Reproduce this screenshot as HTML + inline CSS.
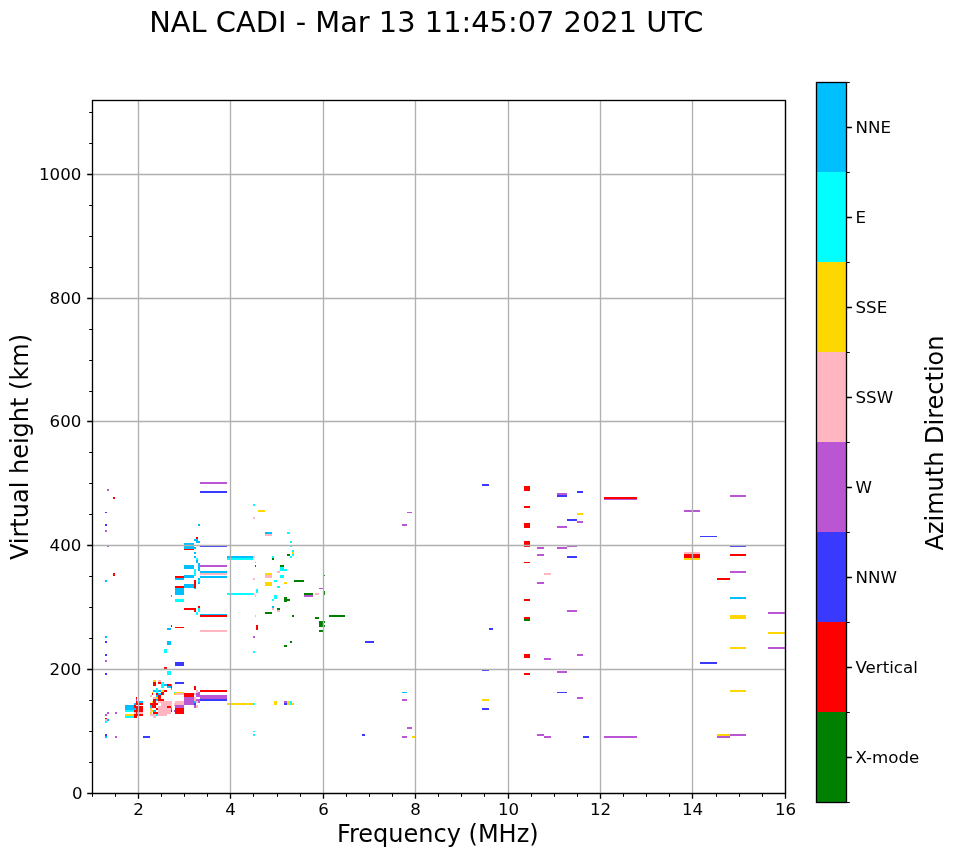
<!DOCTYPE html>
<html lang="en"><head><meta charset="utf-8"><title>NAL CADI - Mar 13 11:45:07 2021 UTC</title>
<style>html,body{margin:0;padding:0;background:#fff}svg{display:block}text{font-family:"DejaVu Sans","Liberation Sans",sans-serif;fill:#000}.t{font-size:16.67px}.l{font-size:24px}.h{font-size:28.87px}</style></head><body>
<svg width="958" height="857" viewBox="0 0 958 857">
<rect width="958" height="857" fill="#fff"/>
<g id="data" shape-rendering="crispEdges">
<rect x="107" y="489" width="2" height="2" fill="#ba55d3"/>
<rect x="113" y="497" width="2" height="2" fill="#ff0000"/>
<rect x="105" y="512" width="2" height="1" fill="#3a3aff"/>
<rect x="105" y="524" width="2" height="2" fill="#3a3aff"/>
<rect x="105" y="530" width="2" height="2" fill="#ba55d3"/>
<rect x="107" y="545" width="2" height="2" fill="#ba55d3"/>
<rect x="200" y="482" width="27" height="2" fill="#ba55d3"/>
<rect x="200" y="491" width="27" height="2" fill="#3a3aff"/>
<rect x="253" y="504" width="2" height="2" fill="#00ffff"/>
<rect x="258" y="510" width="7" height="2" fill="#ffd700"/>
<rect x="253" y="517" width="2" height="2" fill="#ffb6c1"/>
<rect x="198" y="524" width="2" height="2" fill="#00bfff"/>
<rect x="265" y="532" width="7" height="2" fill="#00bfff"/>
<rect x="265" y="534" width="7" height="2" fill="#ffb6c1"/>
<rect x="196" y="537" width="2" height="2" fill="#ff0000"/>
<rect x="194" y="539" width="4" height="2" fill="#00bfff"/>
<rect x="196" y="541" width="4" height="2" fill="#00bfff"/>
<rect x="184" y="543" width="10" height="6" fill="#00bfff"/>
<rect x="194" y="547" width="2" height="2" fill="#00bfff"/>
<rect x="184" y="549" width="10" height="1" fill="#ff0000"/>
<rect x="200" y="545" width="27" height="2" fill="#3a3aff"/>
<rect x="194" y="552" width="2" height="2" fill="#00bfff"/>
<rect x="194" y="556" width="2" height="2" fill="#00bfff"/>
<rect x="196" y="558" width="2" height="2" fill="#00ffff"/>
<rect x="196" y="560" width="2" height="3" fill="#00bfff"/>
<rect x="198" y="563" width="2" height="2" fill="#00bfff"/>
<rect x="227" y="556" width="26" height="2" fill="#00bfff"/>
<rect x="227" y="558" width="26" height="2" fill="#00ffff"/>
<rect x="253" y="556" width="2" height="2" fill="#ffb6c1"/>
<rect x="272" y="556" width="2" height="2" fill="#00ffff"/>
<rect x="272" y="558" width="2" height="2" fill="#008000"/>
<rect x="255" y="562" width="1" height="1" fill="#00ffff"/>
<rect x="184" y="565" width="10" height="4" fill="#00bfff"/>
<rect x="200" y="565" width="27" height="2" fill="#ba55d3"/>
<rect x="198" y="565" width="2" height="6" fill="#00bfff"/>
<rect x="194" y="569" width="2" height="7" fill="#00ffff"/>
<rect x="200" y="571" width="27" height="2" fill="#00bfff"/>
<rect x="200" y="573" width="27" height="2" fill="#ffb6c1"/>
<rect x="200" y="576" width="27" height="2" fill="#00bfff"/>
<rect x="184" y="575" width="10" height="3" fill="#00bfff"/>
<rect x="198" y="578" width="2" height="2" fill="#00bfff"/>
<rect x="198" y="580" width="2" height="2" fill="#00ffff"/>
<rect x="198" y="582" width="2" height="2" fill="#00bfff"/>
<rect x="194" y="580" width="2" height="8" fill="#ff0000"/>
<rect x="184" y="584" width="10" height="4" fill="#00bfff"/>
<rect x="194" y="588" width="2" height="1" fill="#00bfff"/>
<rect x="227" y="593" width="26" height="2" fill="#00ffff"/>
<rect x="253" y="593" width="2" height="2" fill="#ffb6c1"/>
<rect x="255" y="595" width="1" height="2" fill="#ffb6c1"/>
<rect x="256" y="589" width="2" height="4" fill="#00ffff"/>
<rect x="255" y="565" width="1" height="2" fill="#ff0000"/>
<rect x="280" y="565" width="4" height="2" fill="#008000"/>
<rect x="280" y="567" width="4" height="4" fill="#00ffff"/>
<rect x="277" y="571" width="3" height="2" fill="#ffb6c1"/>
<rect x="265" y="573" width="7" height="2" fill="#ffd700"/>
<rect x="265" y="575" width="7" height="3" fill="#ffb6c1"/>
<rect x="280" y="575" width="4" height="3" fill="#00ffff"/>
<rect x="253" y="578" width="2" height="2" fill="#ffb6c1"/>
<rect x="274" y="580" width="3" height="2" fill="#00ffff"/>
<rect x="265" y="582" width="7" height="4" fill="#ffd700"/>
<rect x="277" y="586" width="3" height="2" fill="#00ffff"/>
<rect x="274" y="595" width="3" height="4" fill="#00ffff"/>
<rect x="272" y="599" width="2" height="2" fill="#00ffff"/>
<rect x="272" y="606" width="2" height="2" fill="#00bfff"/>
<rect x="272" y="608" width="2" height="2" fill="#ffb6c1"/>
<rect x="277" y="608" width="3" height="2" fill="#008000"/>
<rect x="277" y="610" width="3" height="2" fill="#ffb6c1"/>
<rect x="265" y="612" width="7" height="2" fill="#008000"/>
<rect x="255" y="615" width="1" height="2" fill="#ffb6c1"/>
<rect x="256" y="625" width="2" height="5" fill="#ff0000"/>
<rect x="253" y="636" width="2" height="2" fill="#ba55d3"/>
<rect x="198" y="606" width="2" height="2" fill="#ff0000"/>
<rect x="198" y="608" width="2" height="4" fill="#00ffff"/>
<rect x="196" y="612" width="2" height="3" fill="#00ffff"/>
<rect x="184" y="608" width="12" height="2" fill="#ff0000"/>
<rect x="194" y="610" width="2" height="2" fill="#ff0000"/>
<rect x="200" y="614" width="27" height="1" fill="#00bfff"/>
<rect x="200" y="615" width="27" height="2" fill="#ff0000"/>
<rect x="200" y="630" width="27" height="2" fill="#ffb6c1"/>
<rect x="113" y="573" width="2" height="3" fill="#ff0000"/>
<rect x="105" y="580" width="2" height="2" fill="#00bfff"/>
<rect x="105" y="636" width="2" height="2" fill="#00bfff"/>
<rect x="105" y="641" width="2" height="2" fill="#3a3aff"/>
<rect x="175" y="576" width="9" height="2" fill="#ff0000"/>
<rect x="175" y="578" width="9" height="2" fill="#00bfff"/>
<rect x="175" y="586" width="9" height="2" fill="#ff0000"/>
<rect x="175" y="588" width="9" height="7" fill="#00bfff"/>
<rect x="171" y="595" width="1" height="2" fill="#00bfff"/>
<rect x="175" y="599" width="9" height="3" fill="#00ffff"/>
<rect x="171" y="625" width="1" height="2" fill="#ff0000"/>
<rect x="175" y="627" width="9" height="1" fill="#ff0000"/>
<rect x="167" y="628" width="4" height="2" fill="#00bfff"/>
<rect x="167" y="641" width="4" height="4" fill="#00bfff"/>
<rect x="105" y="654" width="2" height="2" fill="#3a3aff"/>
<rect x="105" y="660" width="2" height="2" fill="#ba55d3"/>
<rect x="105" y="673" width="2" height="2" fill="#3a3aff"/>
<rect x="164" y="649" width="3" height="4" fill="#00ffff"/>
<rect x="175" y="662" width="9" height="4" fill="#3a3aff"/>
<rect x="164" y="667" width="3" height="2" fill="#ff0000"/>
<rect x="167" y="671" width="4" height="4" fill="#00ffff"/>
<rect x="175" y="682" width="9" height="2" fill="#3a3aff"/>
<rect x="107" y="712" width="2" height="2" fill="#ba55d3"/>
<rect x="105" y="714" width="2" height="2" fill="#ba55d3"/>
<rect x="115" y="712" width="2" height="2" fill="#ba55d3"/>
<rect x="105" y="718" width="2" height="1" fill="#ff0000"/>
<rect x="105" y="719" width="2" height="2" fill="#ffb6c1"/>
<rect x="107" y="719" width="2" height="2" fill="#00bfff"/>
<rect x="105" y="721" width="2" height="2" fill="#00ffff"/>
<rect x="105" y="734" width="2" height="2" fill="#3a3aff"/>
<rect x="105" y="736" width="2" height="2" fill="#00bfff"/>
<rect x="115" y="736" width="2" height="2" fill="#ba55d3"/>
<rect x="143" y="736" width="7" height="2" fill="#3a3aff"/>
<rect x="125" y="705" width="9" height="5" fill="#00bfff"/>
<rect x="125" y="710" width="9" height="2" fill="#00ffff"/>
<rect x="125" y="714" width="9" height="2" fill="#ffd700"/>
<rect x="125" y="716" width="9" height="2" fill="#00ffff"/>
<rect x="134" y="703" width="2" height="2" fill="#00bfff"/>
<rect x="136" y="697" width="1" height="2" fill="#ff0000"/>
<rect x="136" y="699" width="1" height="2" fill="#ba55d3"/>
<rect x="136" y="701" width="1" height="4" fill="#ff0000"/>
<rect x="137" y="701" width="6" height="2" fill="#00bfff"/>
<rect x="137" y="703" width="6" height="2" fill="#ff0000"/>
<rect x="134" y="705" width="2" height="7" fill="#ff0000"/>
<rect x="136" y="706" width="7" height="6" fill="#ff0000"/>
<rect x="134" y="708" width="2" height="2" fill="#00bfff"/>
<rect x="134" y="712" width="9" height="2" fill="#ffb6c1"/>
<rect x="136" y="712" width="1" height="2" fill="#ff0000"/>
<rect x="134" y="714" width="9" height="2" fill="#ff0000"/>
<rect x="134" y="716" width="3" height="2" fill="#ff0000"/>
<rect x="153" y="680" width="3" height="2" fill="#ffd700"/>
<rect x="153" y="682" width="3" height="4" fill="#ff0000"/>
<rect x="158" y="680" width="3" height="2" fill="#ffb6c1"/>
<rect x="158" y="682" width="3" height="2" fill="#ff0000"/>
<rect x="161" y="682" width="3" height="6" fill="#00ffff"/>
<rect x="164" y="684" width="3" height="2" fill="#00bfff"/>
<rect x="167" y="684" width="4" height="2" fill="#ff0000"/>
<rect x="171" y="684" width="1" height="2" fill="#00bfff"/>
<rect x="167" y="686" width="4" height="2" fill="#00bfff"/>
<rect x="171" y="686" width="1" height="2" fill="#ff0000"/>
<rect x="171" y="688" width="1" height="2" fill="#00bfff"/>
<rect x="156" y="688" width="2" height="5" fill="#00ffff"/>
<rect x="153" y="690" width="3" height="2" fill="#00bfff"/>
<rect x="158" y="690" width="3" height="2" fill="#00bfff"/>
<rect x="161" y="690" width="3" height="2" fill="#ffd700"/>
<rect x="164" y="690" width="3" height="2" fill="#ff0000"/>
<rect x="152" y="692" width="1" height="1" fill="#ffd700"/>
<rect x="152" y="693" width="1" height="2" fill="#ff0000"/>
<rect x="156" y="693" width="2" height="2" fill="#ff0000"/>
<rect x="158" y="693" width="3" height="2" fill="#00bfff"/>
<rect x="161" y="692" width="3" height="3" fill="#ff0000"/>
<rect x="150" y="695" width="2" height="2" fill="#ffb6c1"/>
<rect x="156" y="695" width="2" height="2" fill="#00bfff"/>
<rect x="158" y="695" width="3" height="6" fill="#ff0000"/>
<rect x="153" y="697" width="3" height="2" fill="#ffb6c1"/>
<rect x="156" y="697" width="2" height="2" fill="#ffd700"/>
<rect x="153" y="699" width="3" height="7" fill="#ff0000"/>
<rect x="156" y="699" width="2" height="2" fill="#00bfff"/>
<rect x="161" y="699" width="3" height="2" fill="#ff0000"/>
<rect x="152" y="701" width="1" height="2" fill="#ffd700"/>
<rect x="158" y="701" width="14" height="13" fill="#ffb6c1"/>
<rect x="158" y="714" width="9" height="2" fill="#ffb6c1"/>
<rect x="158" y="703" width="3" height="3" fill="#ffffff"/>
<rect x="167" y="706" width="4" height="2" fill="#ff0000"/>
<rect x="171" y="708" width="1" height="2" fill="#ba55d3"/>
<rect x="171" y="710" width="1" height="2" fill="#ff0000"/>
<rect x="171" y="712" width="1" height="2" fill="#ffffff"/>
<rect x="150" y="703" width="8" height="2" fill="#ff0000"/>
<rect x="150" y="705" width="2" height="3" fill="#00bfff"/>
<rect x="152" y="705" width="4" height="3" fill="#ff0000"/>
<rect x="150" y="708" width="2" height="2" fill="#ffd700"/>
<rect x="156" y="708" width="2" height="2" fill="#ff0000"/>
<rect x="150" y="710" width="2" height="2" fill="#ffb6c1"/>
<rect x="152" y="710" width="1" height="2" fill="#ffd700"/>
<rect x="153" y="710" width="3" height="2" fill="#00bfff"/>
<rect x="150" y="712" width="2" height="2" fill="#ffd700"/>
<rect x="153" y="712" width="5" height="2" fill="#ff0000"/>
<rect x="150" y="714" width="6" height="2" fill="#ffb6c1"/>
<rect x="156" y="714" width="2" height="2" fill="#00ffff"/>
<rect x="153" y="716" width="3" height="2" fill="#ffb6c1"/>
<rect x="174" y="692" width="1" height="1" fill="#00ffff"/>
<rect x="174" y="693" width="1" height="2" fill="#ffd700"/>
<rect x="175" y="692" width="9" height="1" fill="#ffd700"/>
<rect x="175" y="693" width="9" height="2" fill="#ffb6c1"/>
<rect x="184" y="693" width="10" height="4" fill="#ff0000"/>
<rect x="184" y="697" width="10" height="8" fill="#ba55d3"/>
<rect x="175" y="701" width="9" height="4" fill="#ffb6c1"/>
<rect x="174" y="703" width="1" height="3" fill="#ffb6c1"/>
<rect x="175" y="705" width="9" height="3" fill="#ba55d3"/>
<rect x="175" y="708" width="9" height="6" fill="#ff0000"/>
<rect x="174" y="710" width="1" height="2" fill="#ba55d3"/>
<rect x="194" y="686" width="2" height="4" fill="#ff0000"/>
<rect x="194" y="693" width="2" height="2" fill="#ffb6c1"/>
<rect x="194" y="697" width="2" height="4" fill="#ffb6c1"/>
<rect x="194" y="701" width="2" height="2" fill="#00bfff"/>
<rect x="194" y="703" width="2" height="2" fill="#3a3aff"/>
<rect x="194" y="705" width="2" height="3" fill="#ba55d3"/>
<rect x="196" y="690" width="2" height="3" fill="#ffb6c1"/>
<rect x="200" y="690" width="27" height="2" fill="#ff0000"/>
<rect x="198" y="692" width="2" height="1" fill="#ba55d3"/>
<rect x="196" y="693" width="4" height="4" fill="#ba55d3"/>
<rect x="200" y="695" width="27" height="4" fill="#ba55d3"/>
<rect x="196" y="699" width="4" height="2" fill="#ba55d3"/>
<rect x="200" y="699" width="27" height="2" fill="#3a3aff"/>
<rect x="196" y="701" width="2" height="2" fill="#ffb6c1"/>
<rect x="198" y="701" width="2" height="2" fill="#ba55d3"/>
<rect x="196" y="705" width="2" height="3" fill="#ffb6c1"/>
<rect x="227" y="703" width="26" height="2" fill="#ffd700"/>
<rect x="253" y="651" width="2" height="2" fill="#00ffff"/>
<rect x="253" y="703" width="2" height="2" fill="#00ffff"/>
<rect x="274" y="701" width="3" height="4" fill="#ffd700"/>
<rect x="284" y="701" width="3" height="2" fill="#ba55d3"/>
<rect x="284" y="703" width="3" height="2" fill="#3a3aff"/>
<rect x="287" y="701" width="3" height="4" fill="#ffd700"/>
<rect x="290" y="701" width="2" height="4" fill="#00ffff"/>
<rect x="292" y="703" width="2" height="2" fill="#ffd700"/>
<rect x="253" y="731" width="2" height="1" fill="#00ffff"/>
<rect x="253" y="734" width="2" height="2" fill="#00ffff"/>
<rect x="287" y="532" width="3" height="2" fill="#00ffff"/>
<rect x="290" y="541" width="2" height="2" fill="#00ffff"/>
<rect x="290" y="545" width="2" height="2" fill="#00ffff"/>
<rect x="292" y="550" width="2" height="2" fill="#00ffff"/>
<rect x="292" y="552" width="2" height="2" fill="#ffd700"/>
<rect x="292" y="554" width="2" height="2" fill="#00ffff"/>
<rect x="287" y="554" width="3" height="2" fill="#008000"/>
<rect x="290" y="556" width="2" height="2" fill="#00ffff"/>
<rect x="284" y="569" width="3" height="2" fill="#00ffff"/>
<rect x="284" y="582" width="3" height="2" fill="#ffd700"/>
<rect x="294" y="580" width="10" height="2" fill="#008000"/>
<rect x="324" y="575" width="1" height="1" fill="#008000"/>
<rect x="319" y="588" width="4" height="1" fill="#ba55d3"/>
<rect x="304" y="593" width="9" height="2" fill="#008000"/>
<rect x="304" y="595" width="9" height="2" fill="#ba55d3"/>
<rect x="315" y="593" width="4" height="2" fill="#ffb6c1"/>
<rect x="324" y="591" width="1" height="4" fill="#008000"/>
<rect x="284" y="597" width="3" height="5" fill="#008000"/>
<rect x="287" y="599" width="3" height="2" fill="#008000"/>
<rect x="292" y="615" width="2" height="2" fill="#008000"/>
<rect x="315" y="617" width="4" height="2" fill="#008000"/>
<rect x="329" y="615" width="16" height="2" fill="#008000"/>
<rect x="319" y="621" width="4" height="6" fill="#008000"/>
<rect x="323" y="621" width="2" height="2" fill="#008000"/>
<rect x="323" y="625" width="2" height="2" fill="#008000"/>
<rect x="319" y="630" width="4" height="2" fill="#008000"/>
<rect x="290" y="641" width="2" height="2" fill="#008000"/>
<rect x="284" y="645" width="3" height="2" fill="#008000"/>
<rect x="482" y="484" width="7" height="2" fill="#3a3aff"/>
<rect x="407" y="512" width="5" height="1" fill="#ba55d3"/>
<rect x="402" y="524" width="5" height="2" fill="#ba55d3"/>
<rect x="524" y="486" width="6" height="5" fill="#ff0000"/>
<rect x="524" y="506" width="6" height="2" fill="#ff0000"/>
<rect x="524" y="523" width="6" height="5" fill="#ff0000"/>
<rect x="524" y="541" width="6" height="6" fill="#ff0000"/>
<rect x="524" y="562" width="6" height="1" fill="#ff0000"/>
<rect x="524" y="599" width="6" height="2" fill="#ff0000"/>
<rect x="524" y="617" width="6" height="2" fill="#ff0000"/>
<rect x="524" y="619" width="6" height="2" fill="#008000"/>
<rect x="489" y="628" width="4" height="2" fill="#3a3aff"/>
<rect x="365" y="641" width="9" height="2" fill="#3a3aff"/>
<rect x="524" y="654" width="6" height="4" fill="#ff0000"/>
<rect x="482" y="670" width="7" height="1" fill="#3a3aff"/>
<rect x="524" y="673" width="6" height="2" fill="#ff0000"/>
<rect x="402" y="692" width="5" height="1" fill="#00bfff"/>
<rect x="402" y="699" width="5" height="2" fill="#ba55d3"/>
<rect x="482" y="699" width="7" height="2" fill="#ffd700"/>
<rect x="482" y="708" width="7" height="2" fill="#3a3aff"/>
<rect x="407" y="727" width="5" height="2" fill="#ba55d3"/>
<rect x="362" y="734" width="3" height="2" fill="#3a3aff"/>
<rect x="402" y="736" width="5" height="2" fill="#ba55d3"/>
<rect x="412" y="736" width="4" height="2" fill="#ffd700"/>
<rect x="557" y="493" width="10" height="2" fill="#ba55d3"/>
<rect x="557" y="495" width="10" height="2" fill="#3a3aff"/>
<rect x="577" y="491" width="6" height="2" fill="#3a3aff"/>
<rect x="577" y="513" width="6" height="2" fill="#ffd700"/>
<rect x="567" y="519" width="10" height="2" fill="#3a3aff"/>
<rect x="577" y="521" width="6" height="2" fill="#ba55d3"/>
<rect x="557" y="526" width="10" height="2" fill="#ba55d3"/>
<rect x="537" y="547" width="7" height="2" fill="#ba55d3"/>
<rect x="557" y="547" width="10" height="2" fill="#ba55d3"/>
<rect x="567" y="545" width="10" height="2" fill="#ba55d3"/>
<rect x="537" y="554" width="7" height="2" fill="#ba55d3"/>
<rect x="567" y="556" width="10" height="2" fill="#3a3aff"/>
<rect x="544" y="573" width="7" height="2" fill="#ffb6c1"/>
<rect x="537" y="582" width="7" height="2" fill="#ba55d3"/>
<rect x="567" y="610" width="10" height="2" fill="#ba55d3"/>
<rect x="604" y="497" width="33" height="2" fill="#ff0000"/>
<rect x="604" y="499" width="33" height="0.6" fill="#ba55d3"/>
<rect x="684" y="510" width="16" height="2" fill="#ba55d3"/>
<rect x="684" y="552" width="16" height="2" fill="#ffb6c1"/>
<rect x="684" y="554" width="16" height="4" fill="#ff0000"/>
<rect x="684" y="558" width="16" height="2" fill="#ffd700"/>
<rect x="577" y="654" width="6" height="2" fill="#ba55d3"/>
<rect x="544" y="658" width="7" height="2" fill="#ba55d3"/>
<rect x="557" y="671" width="10" height="2" fill="#ba55d3"/>
<rect x="557" y="692" width="10" height="1" fill="#3a3aff"/>
<rect x="577" y="697" width="6" height="2" fill="#ba55d3"/>
<rect x="537" y="734" width="7" height="2" fill="#ba55d3"/>
<rect x="544" y="736" width="7" height="2" fill="#ba55d3"/>
<rect x="583" y="736" width="6" height="2" fill="#3a3aff"/>
<rect x="604" y="736" width="33" height="2" fill="#ba55d3"/>
<rect x="730" y="495" width="16" height="2" fill="#ba55d3"/>
<rect x="700" y="536" width="17" height="1" fill="#3a3aff"/>
<rect x="730" y="545" width="16" height="2" fill="#3a3aff"/>
<rect x="730" y="554" width="16" height="2" fill="#ff0000"/>
<rect x="730" y="571" width="16" height="2" fill="#ba55d3"/>
<rect x="717" y="578" width="13" height="2" fill="#ff0000"/>
<rect x="730" y="597" width="16" height="2" fill="#00bfff"/>
<rect x="730" y="615" width="16" height="4" fill="#ffd700"/>
<rect x="768" y="612" width="17" height="2" fill="#ba55d3"/>
<rect x="768" y="632" width="17" height="2" fill="#ffd700"/>
<rect x="730" y="647" width="16" height="2" fill="#ffd700"/>
<rect x="768" y="647" width="17" height="2" fill="#ba55d3"/>
<rect x="700" y="662" width="17" height="2" fill="#3a3aff"/>
<rect x="730" y="690" width="16" height="2" fill="#ffd700"/>
<rect x="717" y="734" width="13" height="2" fill="#ffd700"/>
<rect x="717" y="736" width="13" height="2" fill="#ba55d3"/>
<rect x="730" y="734" width="16" height="2" fill="#ba55d3"/>
</g>
<path d="M138.50 100.5V793.5M230.50 100.5V793.5M323.50 100.5V793.5M415.50 100.5V793.5M508.50 100.5V793.5M600.50 100.5V793.5M692.50 100.5V793.5M785.50 100.5V793.5M92.5 793.50H785.5M92.5 669.50H785.5M92.5 545.50H785.5M92.5 421.50H785.5M92.5 298.50H785.5M92.5 174.50H785.5" stroke="#b0b0b0" stroke-width="1.33" fill="none"/>
<path d="M138.50 793.5v5.3M230.50 793.5v5.3M323.50 793.5v5.3M415.50 793.5v5.3M508.50 793.5v5.3M600.50 793.5v5.3M692.50 793.5v5.3M785.50 793.5v5.3M92.5 793.50h-5.3M92.5 669.50h-5.3M92.5 545.50h-5.3M92.5 421.50h-5.3M92.5 298.50h-5.3M92.5 174.50h-5.3" stroke="#000" stroke-width="1.33" fill="none"/>
<path d="M92.50 793.5v3.3M115.50 793.5v3.3M161.50 793.5v3.3M184.50 793.5v3.3M207.50 793.5v3.3M253.50 793.5v3.3M277.50 793.5v3.3M300.50 793.5v3.3M346.50 793.5v3.3M369.50 793.5v3.3M392.50 793.5v3.3M438.50 793.5v3.3M461.50 793.5v3.3M484.50 793.5v3.3M531.50 793.5v3.3M554.50 793.5v3.3M577.50 793.5v3.3M623.50 793.5v3.3M646.50 793.5v3.3M669.50 793.5v3.3M716.50 793.5v3.3M739.50 793.5v3.3M762.50 793.5v3.3M92.5 762.50h-3.3M92.5 731.50h-3.3M92.5 700.50h-3.3M92.5 638.50h-3.3M92.5 607.50h-3.3M92.5 576.50h-3.3M92.5 514.50h-3.3M92.5 483.50h-3.3M92.5 452.50h-3.3M92.5 391.50h-3.3M92.5 360.50h-3.3M92.5 329.50h-3.3M92.5 267.50h-3.3M92.5 236.50h-3.3M92.5 205.50h-3.3M92.5 143.50h-3.3M92.5 112.50h-3.3" stroke="#000" stroke-width="1" fill="none"/>
<rect x="92.5" y="100.5" width="693.0" height="693.0" fill="none" stroke="#000" stroke-width="1.33"/>
<text class="t" x="138.50" y="815.2" text-anchor="middle">2</text>
<text class="t" x="230.50" y="815.2" text-anchor="middle">4</text>
<text class="t" x="323.50" y="815.2" text-anchor="middle">6</text>
<text class="t" x="415.50" y="815.2" text-anchor="middle">8</text>
<text class="t" x="508.50" y="815.2" text-anchor="middle">10</text>
<text class="t" x="600.50" y="815.2" text-anchor="middle">12</text>
<text class="t" x="692.50" y="815.2" text-anchor="middle">14</text>
<text class="t" x="785.50" y="815.2" text-anchor="middle">16</text>
<text class="t" x="82.6" y="798.90" text-anchor="end">0</text>
<text class="t" x="81.4" y="674.90" text-anchor="end">200</text>
<text class="t" x="81.4" y="550.90" text-anchor="end">400</text>
<text class="t" x="81.4" y="426.90" text-anchor="end">600</text>
<text class="t" x="81.4" y="303.90" text-anchor="end">800</text>
<text class="t" x="81.4" y="179.90" text-anchor="end">1000</text>
<text class="l" x="437.8" y="842" text-anchor="middle">Frequency (MHz)</text>
<text class="l" transform="translate(28.4 447) rotate(-90)" text-anchor="middle">Virtual height (km)</text>
<text class="h" x="426.35" y="32" text-anchor="middle">NAL CADI - Mar 13 11:45:07 2021 UTC</text>
<rect x="816.5" y="82" width="30" height="90" fill="#00bfff" shape-rendering="crispEdges"/>
<rect x="816.5" y="172" width="30" height="90" fill="#00ffff" shape-rendering="crispEdges"/>
<rect x="816.5" y="262" width="30" height="90" fill="#ffd700" shape-rendering="crispEdges"/>
<rect x="816.5" y="352" width="30" height="90" fill="#ffb6c1" shape-rendering="crispEdges"/>
<rect x="816.5" y="442" width="30" height="90" fill="#ba55d3" shape-rendering="crispEdges"/>
<rect x="816.5" y="532" width="30" height="90" fill="#3a3aff" shape-rendering="crispEdges"/>
<rect x="816.5" y="622" width="30" height="90" fill="#ff0000" shape-rendering="crispEdges"/>
<rect x="816.5" y="712" width="30" height="90.5" fill="#008000" shape-rendering="crispEdges"/>
<rect x="816.5" y="82.5" width="30" height="720" fill="none" stroke="#000" stroke-width="1.33"/>
<path d="M846.5 127.5h5.4M846.5 217.5h5.4M846.5 307.5h5.4M846.5 397.5h5.4M846.5 487.5h5.4M846.5 577.5h5.4M846.5 667.5h5.4M846.5 757.5h5.4" stroke="#000" stroke-width="1.33" fill="none"/>
<path d="M846.5 82.5h3.3M846.5 172.5h3.3M846.5 262.5h3.3M846.5 352.5h3.3M846.5 442.5h3.3M846.5 532.5h3.3M846.5 622.5h3.3M846.5 712.5h3.3M846.5 802.5h3.3" stroke="#000" stroke-width="1" fill="none"/>
<text class="t" x="855.5" y="132.9">NNE</text>
<text class="t" x="855.5" y="222.9">E</text>
<text class="t" x="855.5" y="312.9">SSE</text>
<text class="t" x="855.5" y="402.9">SSW</text>
<text class="t" x="855.5" y="492.9">W</text>
<text class="t" x="855.5" y="582.9">NNW</text>
<text class="t" x="855.5" y="672.9">Vertical</text>
<text class="t" x="855.5" y="762.9">X-mode</text>
<text class="l" transform="translate(943.0 443) rotate(-90)" text-anchor="middle">Azimuth Direction</text>
</svg></body></html>
